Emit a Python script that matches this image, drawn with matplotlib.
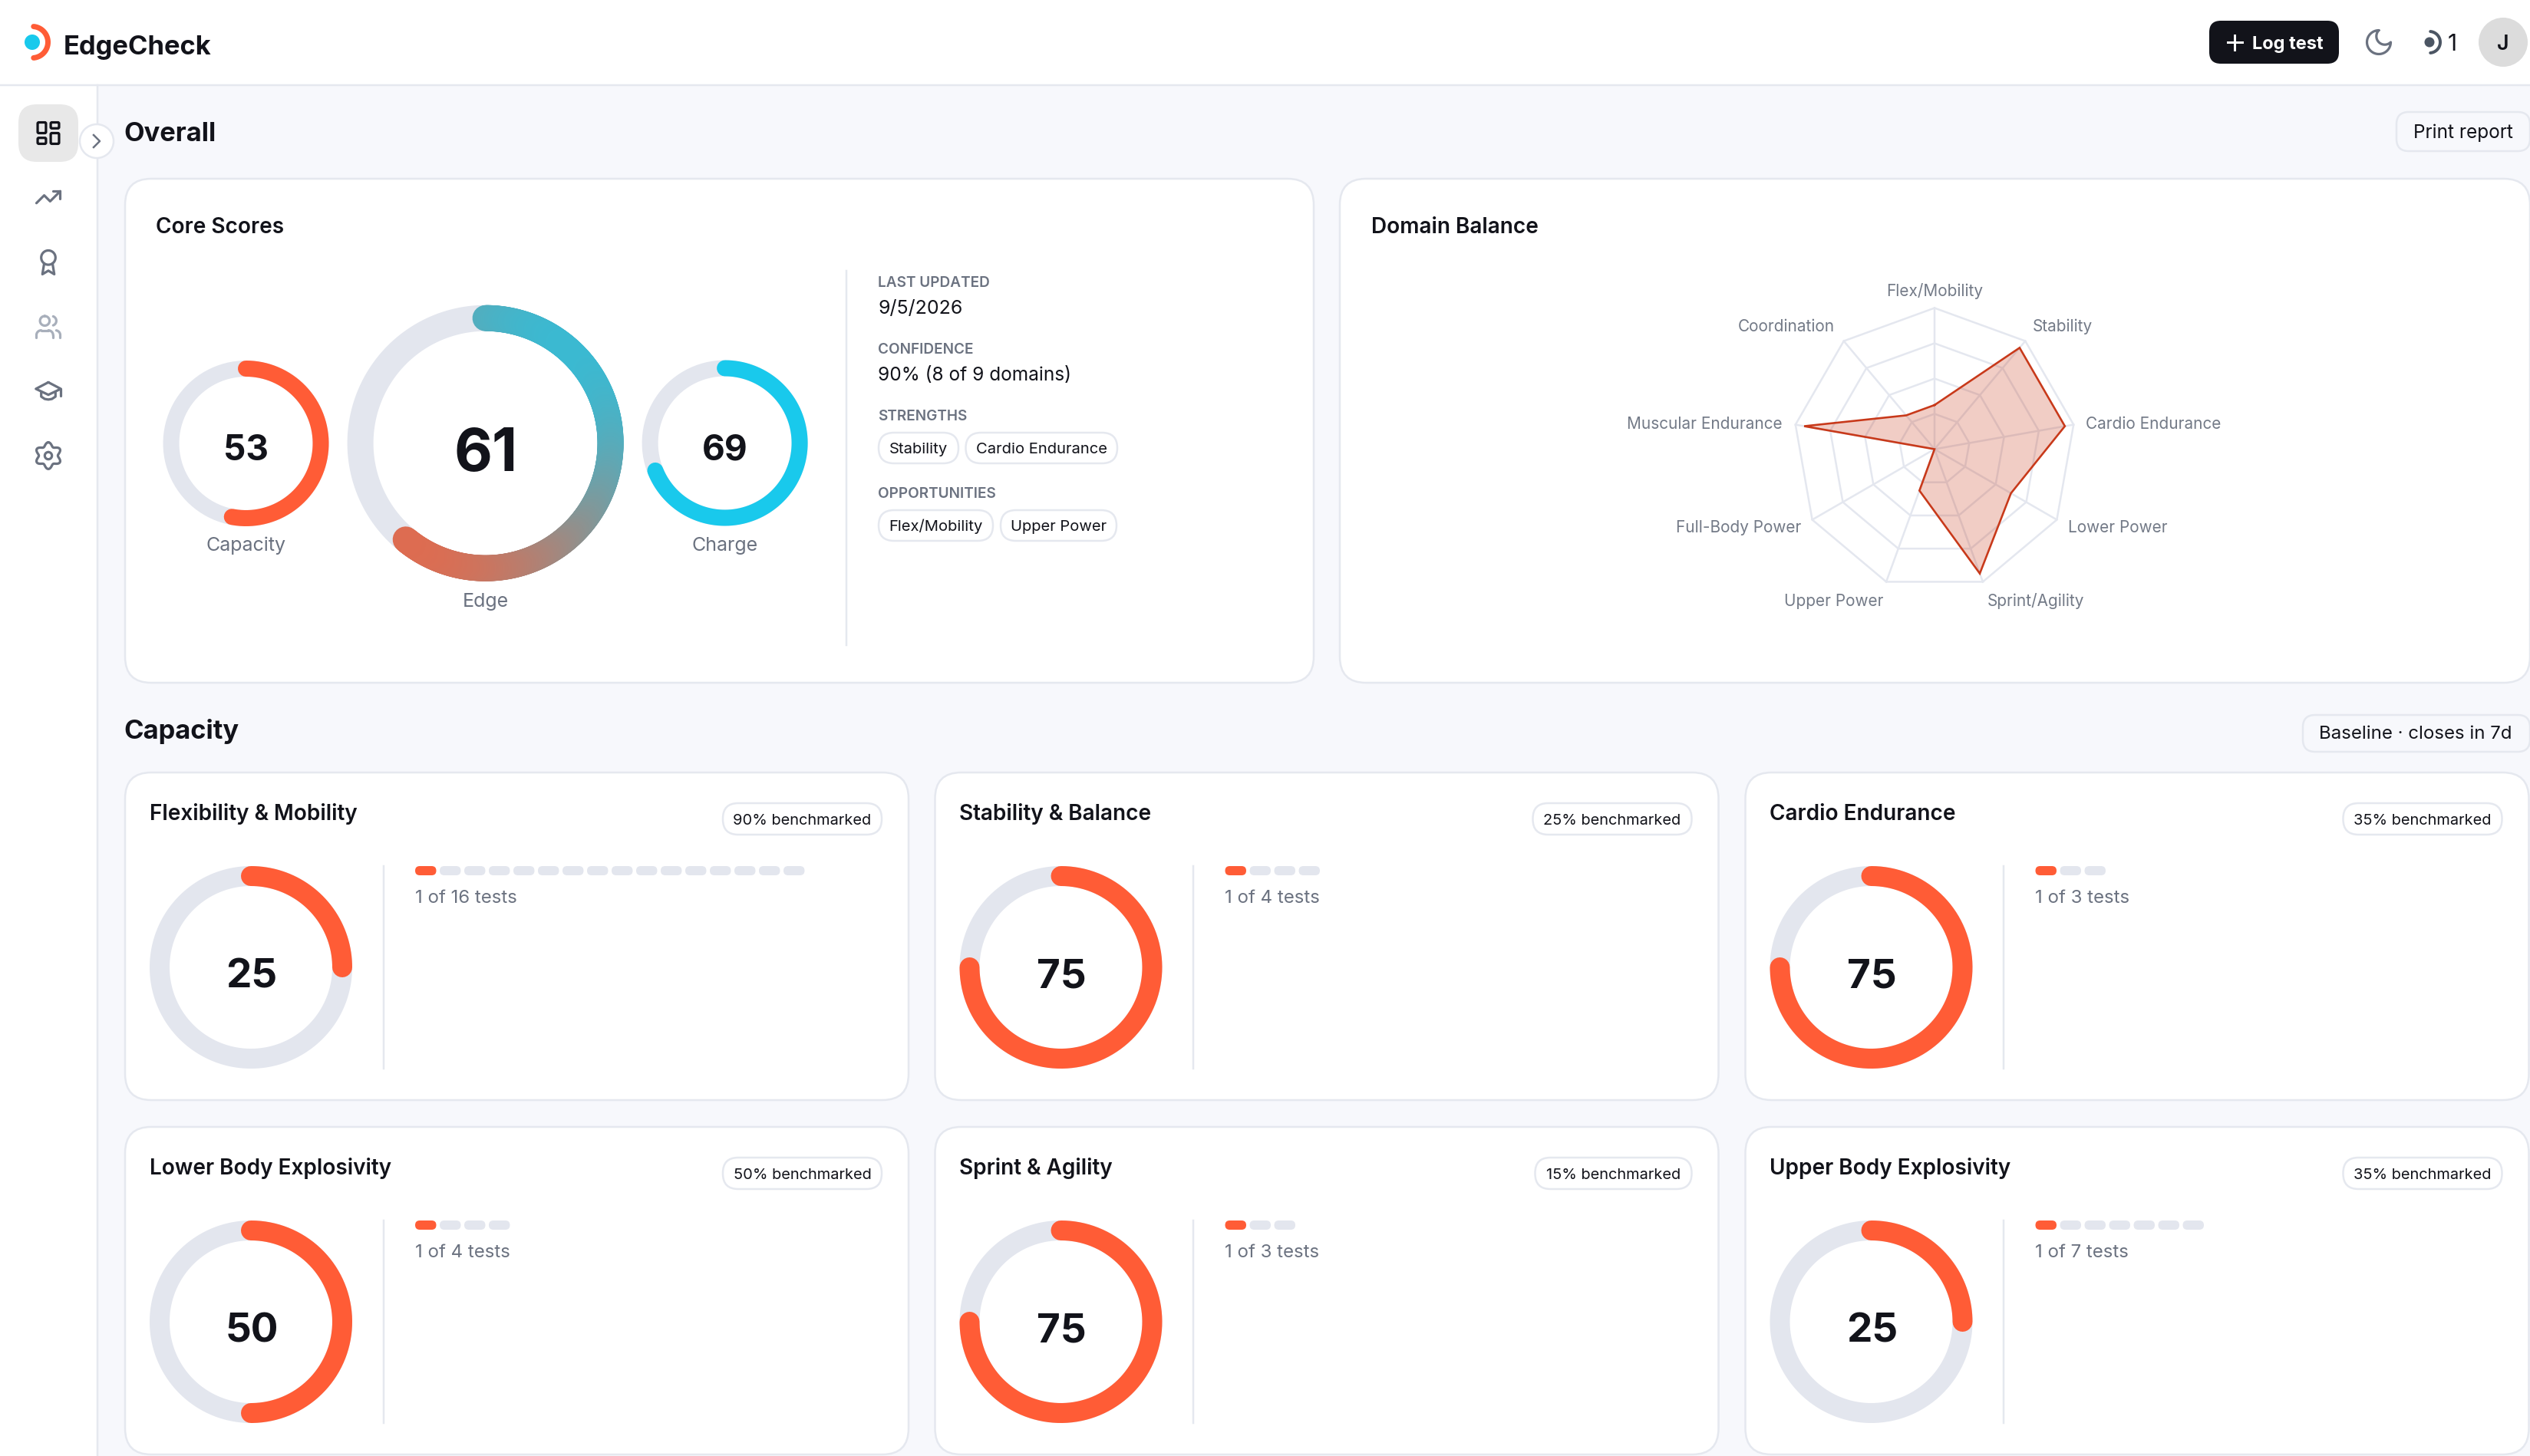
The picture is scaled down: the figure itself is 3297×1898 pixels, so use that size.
import numpy as np
import matplotlib
matplotlib.use("Agg")
import matplotlib.pyplot as plt
from matplotlib.patches import FancyBboxPatch, Circle
from matplotlib.collections import LineCollection

plt.rcParams['font.family'] = ['Inter', 'DejaVu Sans']

# datos
core_names = ['Capacity', 'Edge', 'Charge']
core_scores = [53, 61, 69]

domain_labels = ['Flex/Mobility', 'Stability', 'Cardio Endurance', 'Lower Power', 'Sprint/Agility',
                 'Upper Power', 'Full-Body Power', 'Muscular Endurance', 'Coordination']
domain_values = [25, 75, 75, 50, 75, 25, 0, 75, 25]
domain_rings = [20, 40, 60, 80]

card_titles = ['Flexibility & Mobility', 'Stability & Balance', 'Cardio Endurance',
               'Lower Body Explosivity', 'Sprint & Agility', 'Upper Body Explosivity']
card_scores = [25, 75, 75, 50, 75, 25]
card_bench = [90, 25, 35, 50, 15, 35]
card_done = [1, 1, 1, 1, 1, 1]
card_total = [16, 4, 3, 4, 3, 7]

strengths = ['Stability', 'Cardio Endurance']
opportunities = ['Flex/Mobility', 'Upper Power']

# colores
DARK = '#12131a'
GRAY = '#6b7280'
TRACK = '#e3e6ee'
BORDER = '#e5e8ef'
ORANGE = '#ff5c36'
CYAN = '#19c9ec'
BG = '#f7f8fc'

W, H = 3298, 1898
fig = plt.figure(figsize=(W / 100, H / 100), dpi=100, facecolor=BG)
ax = fig.add_axes([0, 0, 1, 1])
ax.set_xlim(0, W)
ax.set_ylim(H, 0)
ax.axis('off')


def pts(px):
    return px * 0.72


def txt(x, yc, s, size, color=DARK, ha='left', weight='normal', z=6):
    # yc es el centro de las mayusculas
    return ax.text(x, yc + 0.364 * size, s, fontsize=pts(size), color=color, ha=ha, va='baseline',
                   fontweight=weight, zorder=z)


def box(x0, y0, x1, y1, r, fc='white', ec=BORDER, lw=2.5, z=1):
    p = FancyBboxPatch((x0, y0), x1 - x0, y1 - y0, boxstyle='round,pad=0,rounding_size=%g' % r,
                       fc=fc, ec=ec, lw=pts(lw), zorder=z)
    ax.add_patch(p)


def arc_xy(cx, cy, r, a0, a1, n=200):
    # angulos en grados, 0 arriba, sentido horario
    a = np.radians(np.linspace(a0, a1, n))
    return cx + r * np.sin(a), cy - r * np.cos(a)


def ring(cx, cy, r, lw, score, color):
    x, y = arc_xy(cx, cy, r, 0, 360)
    ax.plot(x, y, color=TRACK, lw=pts(lw), zorder=2, solid_capstyle='butt')
    x, y = arc_xy(cx, cy, r, 0, 360 * score / 100)
    ax.plot(x, y, color=color, lw=pts(lw), zorder=3, solid_capstyle='round')


def gradient_ring(cx, cy, r, lw, score):
    x, y = arc_xy(cx, cy, r, 0, 360)
    ax.plot(x, y, color=TRACK, lw=pts(lw), zorder=2, solid_capstyle='butt')
    x, y = arc_xy(cx, cy, r, 0, 360 * score / 100, 400)
    u = (x - cx) / (2 * r) + 0.5
    v = (y - cy) / (2 * r) + 0.5
    t = ((1 - u) + v) / 2
    c0 = np.array(matplotlib.colors.to_rgb(CYAN))
    c1 = np.array(matplotlib.colors.to_rgb(ORANGE))
    cols = c0 + (c1 - c0) * t[:, None]
    segs = np.stack([np.c_[x[:-1], y[:-1]], np.c_[x[1:], y[1:]]], axis=1)
    ax.add_collection(LineCollection(segs, colors=cols[:-1], linewidths=pts(lw), capstyle='round', zorder=3))


def icon_line(cx, cy, s, xs, ys, color, lw=3.2, close=False):
    xs = list(xs)
    ys = list(ys)
    if close:
        xs.append(xs[0])
        ys.append(ys[0])
    ax.plot(cx + s * (np.array(xs) - 12), cy + s * (np.array(ys) - 12), color=color, lw=pts(lw),
            solid_capstyle='round', solid_joinstyle='round', zorder=6)


def icon_arc(cx, cy, s, x0, y0, r, a0, a1, color, lw=3.2):
    x, y = arc_xy(x0, y0, r, a0, a1, 60)
    icon_line(cx, cy, s, x, y, color, lw)


def icon_rrect(cx, cy, s, x, y, w, h, color, lw=3.2):
    p = FancyBboxPatch((cx + s * (x - 12), cy + s * (y - 12)), s * w, s * h,
                       boxstyle='round,pad=0,rounding_size=%g' % (s * 1), fc='none', ec=color, lw=pts(lw), zorder=6)
    ax.add_patch(p)


# cabecera y barra lateral
ax.add_patch(plt.Rectangle((0, 0), W, 110, fc='white', ec='none', zorder=0.5))
ax.add_patch(plt.Rectangle((0, 110), 127, H, fc='white', ec='none', zorder=0.5))
ax.plot([0, W], [111, 111], color=BORDER, lw=pts(2.5), zorder=0.6)
ax.plot([127, 127], [111, H], color=BORDER, lw=pts(2.5), zorder=0.6)

ax.add_patch(Circle((42, 55), 10, fc=CYAN, ec='none', zorder=5))
x, y = arc_xy(42, 55, 20.5, 5, 175)
ax.plot(x, y, color=ORANGE, lw=pts(7), solid_capstyle='round', zorder=5)
txt(83, 58, 'EdgeCheck', 34.5, weight='bold')

box(2879, 27, 3048, 83, 15, fc=DARK, ec=DARK, lw=0, z=2)
ax.plot([2903, 2922], [55, 55], color='white', lw=pts(3), zorder=5)
ax.plot([2912.5, 2912.5], [45.5, 64.5], color='white', lw=pts(3), zorder=5)
txt(2935, 55, 'Log test', 23.6, color='white', weight='bold')

# luna
mx, my = arc_xy(12, 12, 9, 0, -270, 60)
ix, iy = arc_xy(16.5, 7.5, 6.36, 135, 315, 30)
icon_line(3100, 55, 1.72, np.r_[mx, ix], np.r_[my, iy], GRAY)

ax.add_patch(Circle((3166, 55), 6.5, fc='#4b5563', ec='none', zorder=5))
x, y = arc_xy(3166, 55, 14, 5, 175)
ax.plot(x, y, color='#4b5563', lw=pts(4), solid_capstyle='round', zorder=5)
txt(3190, 55, '1', 30)
ax.add_patch(Circle((3262, 55), 32, fc='#dcdcdc', ec='none', zorder=5))
txt(3262, 55, 'J', 27, ha='center', weight='semibold')

box(24, 136, 102, 211, 24, fc='#e8e8e8', ec='none', lw=0)
ic = DARK
s = 1.55
icon_rrect(63, 173.5, s, 3, 3, 7, 9, ic)
icon_rrect(63, 173.5, s, 14, 3, 7, 5, ic)
icon_rrect(63, 173.5, s, 14, 12, 7, 9, ic)
icon_rrect(63, 173.5, s, 3, 16, 7, 5, ic)

ax.add_patch(Circle((126, 184), 22, fc='white', ec=BORDER, lw=pts(2.5), zorder=5))
ax.plot([122, 130, 122], [176, 184, 192], color=GRAY, lw=pts(2.5), zorder=6)

icon_line(63, 257, s, [22, 13.5, 8.5, 2], [7, 15.5, 10.5, 17], GRAY)
icon_line(63, 257, s, [16, 22, 22], [7, 7, 13], GRAY)

icon_arc(63, 342, s, 12, 8, 6, 0, 360, GRAY)
icon_line(63, 342, s, [15.5, 17, 12, 7, 8.5], [12.9, 22, 19, 22, 12.9], GRAY)

ulight = '#a8afbb'
icon_arc(63, 426, s, 9, 7, 4, 0, 360, ulight)
icon_arc(63, 426, s, 12, 19, 4, 0, 90, ulight)
icon_arc(63, 426, s, 6, 19, 4, -90, 0, ulight)
icon_line(63, 426, s, [6, 12], [15, 15], ulight)
icon_line(63, 426, s, [2, 2], [19, 21], ulight)
icon_line(63, 426, s, [16, 16], [19, 21], ulight)
icon_arc(63, 426, s, 14.7, 7, 4, 20, 160, ulight)
icon_arc(63, 426, s, 18, 19, 4, 10, 90, ulight)
icon_line(63, 426, s, [22, 22], [19, 21], ulight)

icon_line(63, 510, s, [12, 1.5, 12, 22.5], [4.5, 10, 15, 10], GRAY, close=True)
icon_line(63, 510, s, [6, 6, 9, 12, 15, 18, 18], [12.5, 16.5, 18.5, 19, 18.5, 16.5, 12.5], GRAY)
icon_line(63, 510, s, [22.5, 22.5], [10, 16], GRAY)

th = np.linspace(0, 2 * np.pi, 120)
rg = 9.6 + 1.6 * np.cos(6 * th)
icon_line(63, 594, s, 12 + rg * np.sin(th), 12 - rg * np.cos(th), GRAY)
icon_arc(63, 594, s, 12, 12, 3, 0, 360, GRAY)

# seccion Overall
txt(161, 171, 'Overall', 34.5, weight='bold')
box(3123, 146, 3297, 197, 16, fc=BG)
txt(3145, 171.5, 'Print report', 24.4)

box(163, 233, 1712, 890, 34)
box(1746, 233, 3297, 890, 34)
txt(203, 294, 'Core Scores', 28, weight='semibold')
txt(1787, 294, 'Domain Balance', 28, weight='semibold')

ring(320.5, 578, 97.5, 21, core_scores[0], ORANGE)
gradient_ring(632.6, 577.7, 163, 34, core_scores[1])
ring(944.6, 577.5, 97.5, 21, core_scores[2], CYAN)
txt(320.5, 583, str(core_scores[0]), 46, ha='center', weight='bold')
txt(633, 586, str(core_scores[1]), 77, ha='center', weight='bold')
txt(945, 583, str(core_scores[2]), 46, ha='center', weight='bold')
txt(320.5, 709, core_names[0], 25, GRAY, ha='center')
txt(632.6, 782, core_names[1], 25, GRAY, ha='center')
txt(945, 709, core_names[2], 25, GRAY, ha='center')

ax.plot([1103, 1103], [353, 841], color=BORDER, lw=pts(2.5), zorder=2)
txt(1144.5, 367.5, 'LAST UPDATED', 19, GRAY, weight='semibold')
txt(1144.5, 400, '9/5/2026', 25)
txt(1144.5, 454.5, 'CONFIDENCE', 19, GRAY, weight='semibold')
txt(1144.5, 487.5, '90% (8 of 9 domains)', 24.4)
txt(1144.5, 541.5, 'STRENGTHS', 19, GRAY, weight='semibold')
txt(1144.5, 642.5, 'OPPORTUNITIES', 19, GRAY, weight='semibold')

for name, x0, x1 in zip(strengths, [1145, 1258.5], [1249, 1456]):
    box(x0, 564, x1, 604, 20)
    txt((x0 + x1) / 2, 584, name, 20.2, ha='center')
for name, x0, x1 in zip(opportunities, [1145, 1304], [1294, 1455]):
    box(x0, 665, x1, 705, 20)
    txt((x0 + x1) / 2, 685, name, 20.2, ha='center')

# radar
rad = 184.0
pcx, pcy = 2521.0, 585.5
pax = fig.add_axes([(pcx - rad) / W, 1 - (pcy + rad) / H, 2 * rad / W, 2 * rad / H], projection='polar')
pax.set_theta_zero_location('N')
pax.set_theta_direction(-1)
pax.set_ylim(0, domain_rings[-1])
pax.axis('off')
pax.patch.set_alpha(0)
angles = np.linspace(0, 2 * np.pi, len(domain_labels), endpoint=False)
for rv in domain_rings:
    pax.plot(np.r_[angles, angles[0]], [rv] * (len(angles) + 1), color='#e4e7ef', lw=pts(2.5), zorder=1,
             clip_on=False)
for an in angles:
    pax.plot([an, an], [0, domain_rings[-1]], color='#e4e7ef', lw=pts(2.5), zorder=1, clip_on=False)
pax.fill(np.r_[angles, angles[0]], domain_values + domain_values[:1], color='#c8391a', alpha=0.25, lw=0, zorder=2,
         clip_on=False)
pax.plot(np.r_[angles, angles[0]], domain_values + domain_values[:1], color='#c8391a', lw=pts(2.6), zorder=3,
         solid_joinstyle='miter', clip_on=False)

label_pos = [(2521, 378, 'center'), (2688, 424, 'center'), (2718, 551, 'left'), (2695, 686, 'left'),
             (2653, 782, 'center'), (2390, 782, 'center'), (2347, 686, 'right'), (2323, 551, 'right'),
             (2328, 424, 'center')]
for name, (lx, ly, lha) in zip(domain_labels, label_pos):
    txt(lx, ly, name, 20.8, '#737a87', ha=lha)

# seccion Capacity
txt(161, 950.5, 'Capacity', 34.5, weight='bold')
box(3001, 932, 3297, 980, 16, fc=BG)
txt(3148, 954, 'Baseline · closes in 7d', 24, ha='center')

card_x = [163, 1218.5, 2274.5]
card_y = [1006, 1468]
for i in range(6):
    x0 = card_x[i % 3]
    y0 = card_y[i // 3]
    box(x0, y0 + 1, x0 + 1021, y0 + 428, 34)
    txt(x0 + 32, y0 + 53, card_titles[i], 28, weight='semibold')
    pw = 204 if card_bench[i] == 15 else 207
    box(x0 + 986 - pw, y0 + 41, x0 + 986, y0 + 82, 20)
    txt(x0 + 986 - pw / 2, y0 + 62, '%d%% benchmarked' % card_bench[i], 20, ha='center')
    ring(x0 + 164, y0 + 255, 119, 26, card_scores[i], ORANGE)
    txt(x0 + 165, y0 + 262, str(card_scores[i]), 53, ha='center', weight='bold')
    ax.plot([x0 + 337, x0 + 337], [y0 + 123, y0 + 387], color=BORDER, lw=pts(2.5), zorder=2)
    for k in range(card_total[i]):
        col = ORANGE if k < card_done[i] else TRACK
        box(x0 + 378 + 32 * k, y0 + 123, x0 + 378 + 32 * k + 27.5, y0 + 135, 6, fc=col, ec='none', lw=0, z=3)
    txt(x0 + 378, y0 + 162, '%d of %d tests' % (card_done[i], card_total[i]), 24, GRAY)

fig.savefig('out.png', dpi=100, facecolor=BG)
